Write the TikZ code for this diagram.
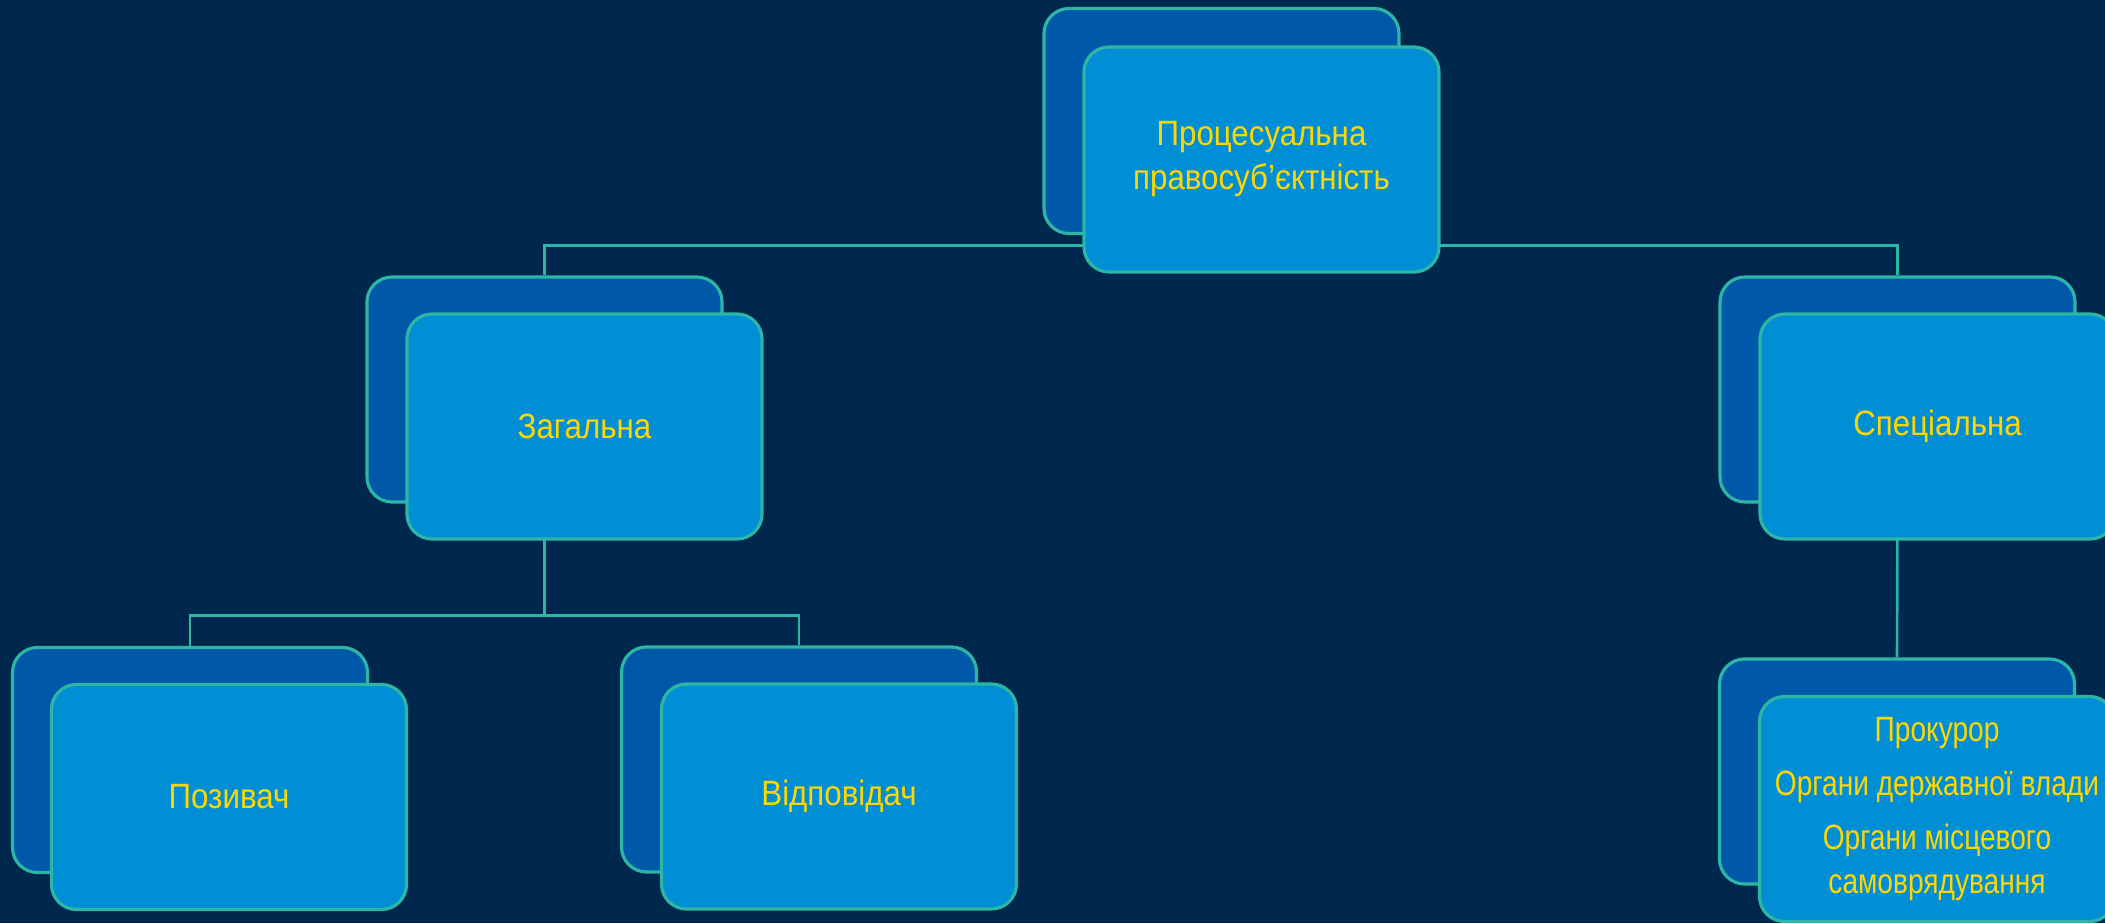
\documentclass[tikz,border=0pt]{standalone}
\usepackage{fontspec}
\setmainfont[FakeStretch=0.89]{Liberation Sans}
\newfontfamily\narrowfont[FakeStretch=0.8]{Liberation Sans}
\usetikzlibrary{positioning,backgrounds}
\definecolor{bgnavy}{HTML}{00284F}
\definecolor{backblue}{HTML}{0059A8}
\definecolor{frontblue}{HTML}{008FD5}
\definecolor{rimteal}{HTML}{2DB5A5}
\definecolor{txtgold}{HTML}{FFD700}
\tikzset{
backbox/.style={
  rectangle,
  rounded corners=0.25cm,
  line width=0.9pt,
  minimum width=3.55cm,
  minimum height=2.25cm,
  draw=rimteal,
  fill=backblue,
  }
}
\tikzset{
frontbox/.style={
  backbox,
  fill=frontblue,
  text=txtgold,
  align=center,
  font=\fontsize{10}{12.5}\selectfont,
  }
}
\tikzset{
link/.style={
  line width=0.75pt,
  draw=rimteal,
  }
}
\begin{document}
\begin{tikzpicture}
    \useasboundingbox (0,0) rectangle (21.05,9.23);
    % back cards
    \node[backbox] (topb) at (12.215,8.02) {};
    \node[backbox] (genb) at (5.445,5.335) {};
    \node[backbox] (specb) at (18.975,5.335) {};
    \node[backbox] (plb) at (1.90,1.63) {};
    \node[backbox] (vidb) at (7.99,1.635) {};
    \node[backbox] (subb) at (18.97,1.515) {};
    % front cards
    \node[frontbox] (topf) at ([shift={(0.4,-0.385)}]topb.center) {Процесуальна\\правосуб’єктність};
    \node[frontbox] (genf) at ([shift={(0.4,-0.37)}]genb.center) {Загальна};
    \node[frontbox] (specf) at ([shift={(0.4,-0.37)}]specb.center) {Спеціальна};
    \node[frontbox] (plf) at ([shift={(0.39,-0.37)}]plb.center) {Позивач};
    \node[frontbox] (vidf) at ([shift={(0.4,-0.37)}]vidb.center) {Відповідач};
    \node[frontbox, inner sep=1pt, font=\narrowfont\fontsize{10}{12.5}\selectfont] (subf) at ([shift={(0.4,-0.375)}]subb.center)
        {Прокурор\\[2.8pt]Органи державної влади\\[2.8pt]Органи місцевого\\самоврядування};
    \coordinate (topbus) at ([yshift=0.28cm]topf.south);
    \coordinate (genbus) at ([yshift=-1.12cm]genb.south);
    \begin{pgfonlayer}{background}
    \fill[bgnavy] (0,0) rectangle (21.05,9.23);
    \draw[link] (topbus) -| (genb.north);
    \draw[link] (topbus) -| (specb.north);
    \draw[link] (genb.south) -- (genbus) -| (plb.north);
    \draw[link] (genbus) -| (vidb.north);
    \draw[link] (specb.south) -- (subb.north);
    \end{pgfonlayer}
\end{tikzpicture}
\end{document}
